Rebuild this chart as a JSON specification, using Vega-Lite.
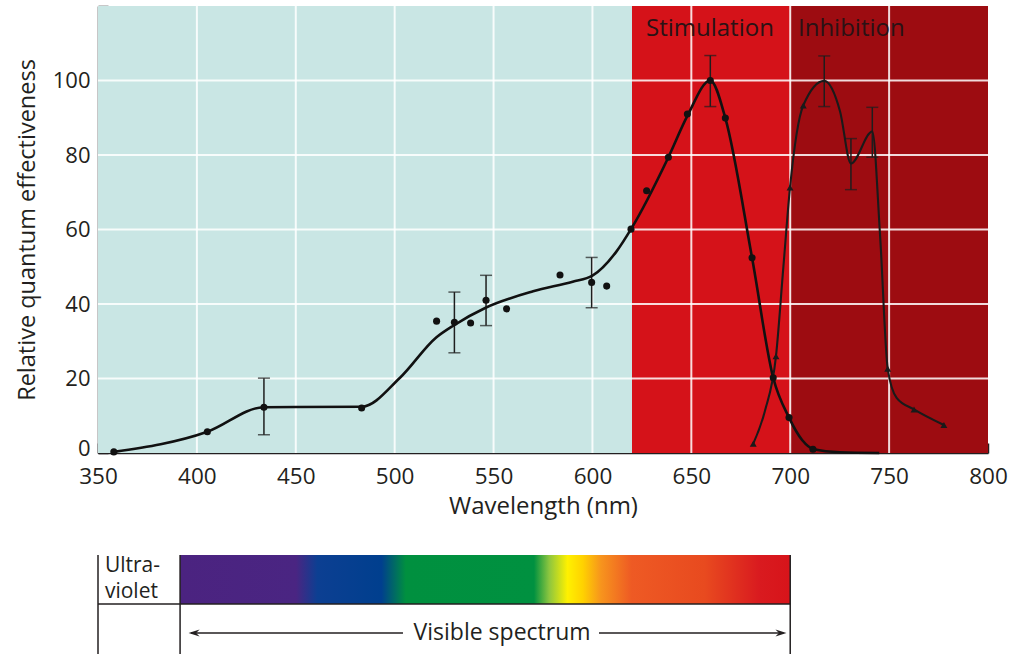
{
  "$schema": "https://vega.github.io/schema/vega-lite/v6.json",
  "background": "white",
  "padding": {"left": 15, "top": 5, "right": 5, "bottom": 0},
  "config": {
    "font": "Open Sans",
    "view": {"stroke": null},
    "concat": {"spacing": 35}
  },
  "datasets": {
    "regions": [
      {"region": "Other", "start": 350, "end": 620},
      {"region": "Stimulation", "start": 620, "end": 700},
      {"region": "Inhibition", "start": 700, "end": 800}
    ],
    "xgrid": [{"wavelength": 400}, {"wavelength": 450}, {"wavelength": 500}, {"wavelength": 550}, {"wavelength": 600}, {"wavelength": 650}, {"wavelength": 700}, {"wavelength": 750}],
    "ygrid": [{"effectiveness": 20}, {"effectiveness": 40}, {"effectiveness": 60}, {"effectiveness": 80}, {"effectiveness": 100}],
    "regionLabels": [
      {"label": "Stimulation", "wavelength": 659.4},
      {"label": "Inhibition", "wavelength": 730.9}
    ],
    "errors": [
      {"wavelength": 433.9, "low": 4.9, "high": 20.1},
      {"wavelength": 530.2, "low": 26.9, "high": 43.2},
      {"wavelength": 546.2, "low": 34.2, "high": 47.7},
      {"wavelength": 599.6, "low": 39.0, "high": 52.5},
      {"wavelength": 659.6, "low": 93.0, "high": 106.7},
      {"wavelength": 717.2, "low": 93.0, "high": 106.6},
      {"wavelength": 730.7, "low": 70.7, "high": 84.4},
      {"wavelength": 741.5, "low": 79.4, "high": 92.8}
    ],
    "stimCurve": [
      {"wavelength": 358, "effectiveness": 0.3},
      {"wavelength": 405.3, "effectiveness": 5.7},
      {"wavelength": 433.9, "effectiveness": 12.3},
      {"wavelength": 483.3, "effectiveness": 12.4},
      {"wavelength": 502.7, "effectiveness": 20.2},
      {"wavelength": 521, "effectiveness": 31},
      {"wavelength": 530, "effectiveness": 34.3},
      {"wavelength": 546, "effectiveness": 39},
      {"wavelength": 570, "effectiveness": 43.4},
      {"wavelength": 590, "effectiveness": 46},
      {"wavelength": 600, "effectiveness": 47.6},
      {"wavelength": 612, "effectiveness": 54},
      {"wavelength": 619.5, "effectiveness": 60.1},
      {"wavelength": 638.4, "effectiveness": 79.4},
      {"wavelength": 648, "effectiveness": 90.5},
      {"wavelength": 659.6, "effectiveness": 100},
      {"wavelength": 667.2, "effectiveness": 89.9},
      {"wavelength": 680.7, "effectiveness": 52.4},
      {"wavelength": 691.4, "effectiveness": 20.2},
      {"wavelength": 699.4, "effectiveness": 9.5},
      {"wavelength": 706, "effectiveness": 3.5},
      {"wavelength": 712, "effectiveness": 1},
      {"wavelength": 725, "effectiveness": 0.2},
      {"wavelength": 745, "effectiveness": 0}
    ],
    "stimPoints": [
      {"wavelength": 358, "effectiveness": 0.3},
      {"wavelength": 405.3, "effectiveness": 5.7},
      {"wavelength": 433.9, "effectiveness": 12.3},
      {"wavelength": 483.3, "effectiveness": 12.1},
      {"wavelength": 521.2, "effectiveness": 35.4},
      {"wavelength": 530.2, "effectiveness": 35.1},
      {"wavelength": 538.4, "effectiveness": 34.9},
      {"wavelength": 546.2, "effectiveness": 41.0},
      {"wavelength": 556.6, "effectiveness": 38.7},
      {"wavelength": 583.6, "effectiveness": 47.8},
      {"wavelength": 599.6, "effectiveness": 45.8},
      {"wavelength": 607.2, "effectiveness": 44.8},
      {"wavelength": 619.5, "effectiveness": 60.1},
      {"wavelength": 627.4, "effectiveness": 70.4},
      {"wavelength": 638.4, "effectiveness": 79.4},
      {"wavelength": 648, "effectiveness": 91},
      {"wavelength": 659.6, "effectiveness": 100},
      {"wavelength": 667.2, "effectiveness": 89.9},
      {"wavelength": 680.7, "effectiveness": 52.4},
      {"wavelength": 691.4, "effectiveness": 20.2},
      {"wavelength": 699.4, "effectiveness": 9.5},
      {"wavelength": 711.5, "effectiveness": 1}
    ],
    "inhCurve": [
      {"wavelength": 681.3, "effectiveness": 2.5},
      {"wavelength": 687.2, "effectiveness": 11.3},
      {"wavelength": 692.8, "effectiveness": 26},
      {"wavelength": 696.5, "effectiveness": 49.7},
      {"wavelength": 699.9, "effectiveness": 71.3},
      {"wavelength": 706.6, "effectiveness": 93.3},
      {"wavelength": 717.2, "effectiveness": 99.9},
      {"wavelength": 725.2, "effectiveness": 91.7},
      {"wavelength": 730.7, "effectiveness": 77.7},
      {"wavelength": 741.5, "effectiveness": 86.3},
      {"wavelength": 745.4, "effectiveness": 58.7},
      {"wavelength": 749.3, "effectiveness": 22.6},
      {"wavelength": 753.8, "effectiveness": 14.8},
      {"wavelength": 762.6, "effectiveness": 11.7},
      {"wavelength": 777.7, "effectiveness": 7.5}
    ],
    "inhPoints": [
      {"wavelength": 681.3, "effectiveness": 2.5},
      {"wavelength": 692.8, "effectiveness": 26},
      {"wavelength": 699.9, "effectiveness": 71.3},
      {"wavelength": 706.6, "effectiveness": 93.3},
      {"wavelength": 749.3, "effectiveness": 22.6},
      {"wavelength": 762.6, "effectiveness": 11.7},
      {"wavelength": 777.7, "effectiveness": 7.5}
    ]
  },
  "vconcat": [
    {
      "width": 890,
      "height": 447,
      "layer": [
        {
          "data": {"name": "regions"},
          "mark": {"type": "rect"},
          "encoding": {
            "x": {
              "field": "start", "type": "quantitative", "title": "Wavelength (nm)",
              "scale": {"domain": [350, 800], "nice": false, "zero": false},
              "axis": {
                "values": [350, 400, 450, 500, 550, 600, 650, 700, 750, 800],
                "grid": false, "tickSize": -10, "tickWidth": 1.5, "tickColor": "#231f20",
                "domainColor": "#231f20", "domainWidth": 1.5, "labelFlush": false,
                "labelFontSize": 22.5, "labelColor": "#231f20", "labelPadding": 22,
                "titleFontSize": 24, "titleFontWeight": "normal", "titleColor": "#231f20", "titlePadding": 7
              }
            },
            "x2": {"field": "end"},
            "y": {
              "datum": 0, "type": "quantitative", "title": "Relative quantum effectiveness",
              "scale": {"domain": [0, 120], "nice": false},
              "axis": {
                "values": [0, 20, 40, 60, 80, 100, 120],
                "labelExpr": "datum.value > 100 ? '' : datum.label",
                "labelOffset": {"condition": {"test": "datum.value === 0", "value": -5}, "value": 0},
                "grid": false, "tickSize": -10, "tickWidth": 1.5, "tickColor": "#231f20",
                "domainColor": "#231f20", "domainWidth": 1.5, "labelFlush": false,
                "labelFontSize": 22, "labelColor": "#231f20", "labelPadding": 18,
                "titleFontSize": 23.5, "titleFontWeight": "normal", "titleColor": "#231f20", "titlePadding": 13
              }
            },
            "y2": {"datum": 120},
            "color": {
              "field": "region", "type": "nominal",
              "scale": {"domain": ["Other", "Stimulation", "Inhibition"], "range": ["#c9e6e4", "#d51219", "#9d0c11"]},
              "legend": null
            }
          }
        },
        {
          "data": {"name": "xgrid"},
          "mark": {"type": "rule", "color": "white", "strokeWidth": 2, "opacity": 0.85},
          "encoding": {
            "x": {"field": "wavelength", "type": "quantitative", "title": "Wavelength (nm)"},
            "y": {"datum": 0, "type": "quantitative"},
            "y2": {"datum": 120}
          }
        },
        {
          "data": {"name": "ygrid"},
          "mark": {"type": "rule", "color": "white", "strokeWidth": 2, "opacity": 0.85},
          "encoding": {
            "y": {"field": "effectiveness", "type": "quantitative", "title": "Relative quantum effectiveness"},
            "x": {"datum": 350, "type": "quantitative"},
            "x2": {"datum": 800}
          }
        },
        {
          "data": {"name": "regionLabels"},
          "mark": {"type": "text", "fontSize": 24, "color": "#2a1215", "align": "center", "baseline": "alphabetic"},
          "encoding": {
            "x": {"field": "wavelength", "type": "quantitative", "title": "Wavelength (nm)"},
            "y": {"datum": 111.9, "type": "quantitative"},
            "text": {"field": "label"}
          }
        },
        {
          "data": {"name": "errors"},
          "mark": {"type": "rule", "color": "#1e1e1e", "strokeWidth": 1.5},
          "encoding": {
            "x": {"field": "wavelength", "type": "quantitative", "title": "Wavelength (nm)"},
            "y": {"field": "low", "type": "quantitative", "title": "Relative quantum effectiveness"},
            "y2": {"field": "high"}
          }
        },
        {
          "data": {"name": "errors"},
          "mark": {"type": "tick", "orient": "horizontal", "color": "#1e1e1e", "size": 12, "thickness": 1.5},
          "encoding": {
            "x": {"field": "wavelength", "type": "quantitative", "title": "Wavelength (nm)"},
            "y": {"field": "low", "type": "quantitative", "title": "Relative quantum effectiveness"}
          }
        },
        {
          "data": {"name": "errors"},
          "mark": {"type": "tick", "orient": "horizontal", "color": "#1e1e1e", "size": 12, "thickness": 1.5},
          "encoding": {
            "x": {"field": "wavelength", "type": "quantitative", "title": "Wavelength (nm)"},
            "y": {"field": "high", "type": "quantitative", "title": "Relative quantum effectiveness"}
          }
        },
        {
          "data": {"name": "stimCurve"},
          "mark": {"type": "line", "interpolate": "monotone", "color": "#111111", "strokeWidth": 2.6},
          "encoding": {
            "x": {"field": "wavelength", "type": "quantitative", "title": "Wavelength (nm)"},
            "y": {"field": "effectiveness", "type": "quantitative", "title": "Relative quantum effectiveness"}
          }
        },
        {
          "data": {"name": "inhCurve"},
          "mark": {"type": "line", "interpolate": "monotone", "color": "#1a1a1a", "strokeWidth": 2.1},
          "encoding": {
            "x": {"field": "wavelength", "type": "quantitative", "title": "Wavelength (nm)"},
            "y": {"field": "effectiveness", "type": "quantitative", "title": "Relative quantum effectiveness"}
          }
        },
        {
          "data": {"name": "stimPoints"},
          "mark": {"type": "point", "shape": "circle", "filled": true, "color": "#111111", "size": 50, "opacity": 1},
          "encoding": {
            "x": {"field": "wavelength", "type": "quantitative", "title": "Wavelength (nm)"},
            "y": {"field": "effectiveness", "type": "quantitative", "title": "Relative quantum effectiveness"}
          }
        },
        {
          "data": {"name": "inhPoints"},
          "mark": {"type": "point", "shape": "triangle-up", "filled": true, "color": "#1a1a1a", "size": 48, "opacity": 1},
          "encoding": {
            "x": {"field": "wavelength", "type": "quantitative", "title": "Wavelength (nm)"},
            "y": {"field": "effectiveness", "type": "quantitative", "title": "Relative quantum effectiveness"}
          }
        }
      ]
    },
    {
      "width": 890,
      "height": 100,
      "layer": [
        {
          "data": {"values": [{"start": 391.5, "end": 700}]},
          "mark": {
            "type": "rect",
            "fill": {
              "gradient": "linear", "x1": 0, "x2": 1, "y1": 0, "y2": 0,
              "stops": [
                {"offset": 0, "color": "#4b2380"},
                {"offset": 0.19, "color": "#4a2582"},
                {"offset": 0.225, "color": "#0c3f92"},
                {"offset": 0.33, "color": "#003f8e"},
                {"offset": 0.37, "color": "#00903f"},
                {"offset": 0.58, "color": "#009140"},
                {"offset": 0.605, "color": "#8dc63f"},
                {"offset": 0.635, "color": "#fff100"},
                {"offset": 0.66, "color": "#ffd200"},
                {"offset": 0.69, "color": "#f7941d"},
                {"offset": 0.74, "color": "#ee5a24"},
                {"offset": 0.86, "color": "#e84a1f"},
                {"offset": 0.95, "color": "#d91a1f"},
                {"offset": 1, "color": "#d7141a"}
              ]
            }
          },
          "encoding": {
            "x": {"field": "start", "type": "quantitative", "scale": {"domain": [350, 800], "nice": false, "zero": false}, "axis": null},
            "x2": {"field": "end"},
            "y": {"datum": 50, "type": "quantitative", "scale": {"domain": [0, 100], "nice": false}, "axis": null},
            "y2": {"datum": 99}
          }
        },
        {
          "data": {"values": [{"wavelength": 350}, {"wavelength": 391.5}, {"wavelength": 700}]},
          "mark": {"type": "rule", "color": "#231f20", "strokeWidth": 1.5},
          "encoding": {
            "x": {"field": "wavelength", "type": "quantitative"},
            "y": {"datum": 0, "type": "quantitative"},
            "y2": {"datum": 99}
          }
        },
        {
          "data": {"values": [{"start": 350, "end": 700}]},
          "mark": {"type": "rule", "color": "#231f20", "strokeWidth": 1.5},
          "encoding": {
            "x": {"field": "start", "type": "quantitative"},
            "x2": {"field": "end"},
            "y": {"datum": 50, "type": "quantitative"}
          }
        },
        {
          "data": {"values": [{"label": "Ultra-\nviolet", "wavelength": 353.5}]},
          "mark": {"type": "text", "fontSize": 21, "lineHeight": 26, "lineBreak": "\n", "align": "left", "baseline": "middle", "color": "#231f20"},
          "encoding": {
            "x": {"field": "wavelength", "type": "quantitative"},
            "y": {"datum": 88, "type": "quantitative"},
            "text": {"field": "label"}
          }
        },
        {
          "data": {"values": [{"label": "Visible spectrum", "wavelength": 554.3}]},
          "mark": {"type": "text", "fontSize": 23, "align": "center", "baseline": "middle", "color": "#231f20"},
          "encoding": {
            "x": {"field": "wavelength", "type": "quantitative"},
            "y": {"datum": 21, "type": "quantitative"},
            "text": {"field": "label"}
          }
        },
        {
          "data": {"values": [{"start": 397, "end": 504.2}, {"start": 603.3, "end": 696.5}]},
          "mark": {"type": "rule", "color": "#231f20", "strokeWidth": 1.5},
          "encoding": {
            "x": {"field": "start", "type": "quantitative"},
            "x2": {"field": "end"},
            "y": {"datum": 21, "type": "quantitative"}
          }
        },
        {
          "data": {"values": [{"wavelength": 395.8, "direction": "left"}, {"wavelength": 698.1, "direction": "right"}]},
          "mark": {"type": "point", "filled": true, "color": "#231f20", "size": 100, "opacity": 1},
          "encoding": {
            "x": {"field": "wavelength", "type": "quantitative"},
            "y": {"datum": 21, "type": "quantitative"},
            "shape": {
              "field": "direction", "type": "nominal",
              "scale": {"domain": ["left", "right"], "range": ["M0,0L2.2,-0.7L1.5,0L2.2,0.7Z", "M0,0L-2.2,-0.7L-1.5,0L-2.2,0.7Z"]},
              "legend": null
            }
          }
        }
      ]
    }
  ]
}
